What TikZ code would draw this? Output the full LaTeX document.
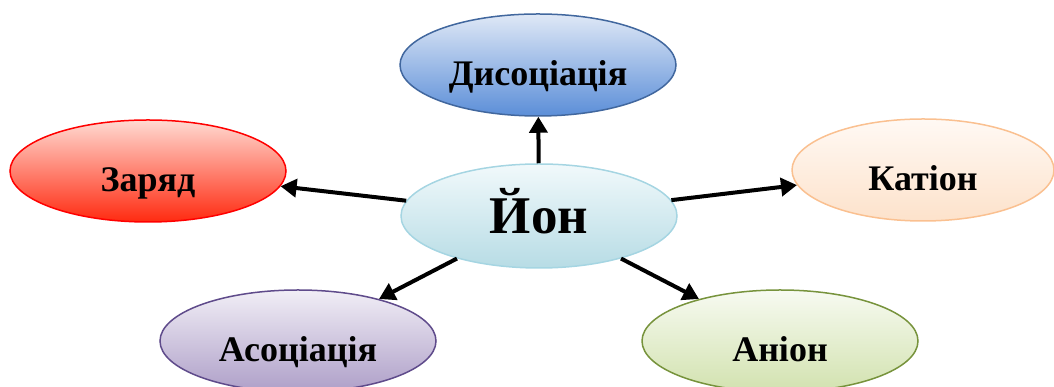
\documentclass[tikz,border=0pt]{standalone}
\usepackage{fontspec}
\setmainfont{Liberation Serif}
\usepackage{tikz}
\usetikzlibrary{shapes}
\usetikzlibrary{arrows.meta}
\usepackage{xcolor}

\definecolor{dysTop}{HTML}{DFE8F6}
\definecolor{dysBot}{HTML}{5B8ED8}
\definecolor{dysLine}{HTML}{41679E}
\definecolor{zarTop}{HTML}{FFDAD2}
\definecolor{zarBot}{HTML}{FF2A10}
\definecolor{zarLine}{HTML}{FF0000}
\definecolor{katTop}{HTML}{FFF9F4}
\definecolor{katBot}{HTML}{FDE2CB}
\definecolor{katLine}{HTML}{FAC090}
\definecolor{asoTop}{HTML}{F1EEF6}
\definecolor{asoBot}{HTML}{AE9FC8}
\definecolor{asoLine}{HTML}{5F4B8B}
\definecolor{aniTop}{HTML}{F7FAF1}
\definecolor{aniBot}{HTML}{D2E2AF}
\definecolor{aniLine}{HTML}{77933C}
\definecolor{ionTop}{HTML}{F1F9FB}
\definecolor{ionBot}{HTML}{B7DCE5}
\definecolor{ionLine}{HTML}{A5D5E2}

\begin{document}
\begin{tikzpicture}[x=1pt,y=1pt,
  oval/.style={ellipse,inner sep=0pt,minimum width=276pt,minimum height=102pt,
    line width=1.5pt,font=\fontsize{36}{40}\selectfont\bfseries,
    text height=42pt,text depth=0pt},
  arr/.style={line width=4pt,-{Triangle[length=16pt,width=18pt]}}]
\useasboundingbox (0,0) rectangle (1054,387);

\node[oval,draw=dysLine,top color=dysTop,bottom color=dysBot] (dys) at (538,322) {Дисоціація};
\node[oval,draw=zarLine,top color=zarTop,bottom color=zarBot] (zar) at (148,216) {Заряд};
\node[oval,draw=katLine,top color=katTop,bottom color=katBot,minimum width=262pt] (kat) at (923,217) {Катіон};
\node[oval,draw=asoLine,top color=asoTop,bottom color=asoBot] (aso) at (298,46) {Асоціація};
\node[oval,draw=aniLine,top color=aniTop,bottom color=aniBot] (ani) at (780,46) {Аніон};
\node[oval,draw=ionLine,top color=ionTop,bottom color=ionBot,minimum height=104pt,
  font=\fontsize{53}{58}\selectfont\bfseries,text height=35pt] (ion) at (539,171) {Йон};

\draw[arr] (ion)--(dys);
\draw[arr] (ion)--(zar);
\draw[arr] (ion)--(kat);
\draw[arr] (ion)--(aso);
\draw[arr] (ion)--(ani);

\end{tikzpicture}
\end{document}
